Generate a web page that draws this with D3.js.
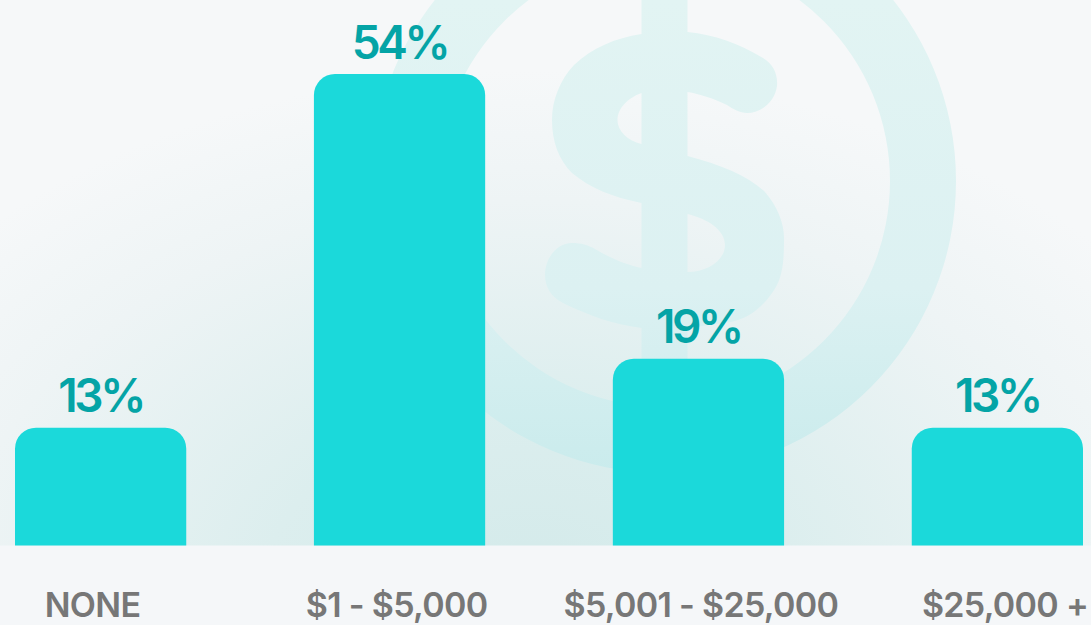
<!DOCTYPE html>
<html><head><meta charset="utf-8">
<script src="https://cdn.jsdelivr.net/npm/d3@7"></script>
<style>html,body{margin:0;padding:0;background:#f5f7f9;overflow:hidden}</style>
</head><body><div id="c"></div>
<script>
const categories=["NONE","$1 - $5,000","$5,001 - $25,000","$25,000 +"];
const valueLabels=["13%","54%","19%","13%"];
const barValues=[13.5,54,21.4,13.5];

const W=1091,H=625,base=545.5,top0=74;
const svg=d3.select("#c").append("svg").attr("width",W).attr("height",H).style("display","block");
const defs=svg.append("defs");
const bg=defs.append("radialGradient").attr("id","bg").attr("gradientUnits","userSpaceOnUse")
 .attr("cx",0).attr("cy",0).attr("r",1)
 .attr("gradientTransform","translate(530,590) scale(760,520)");
bg.append("stop").attr("offset",0).attr("stop-color","#d3eaea");
bg.append("stop").attr("offset",0.35).attr("stop-color","#dceeee");
bg.append("stop").attr("offset",0.75).attr("stop-color","#eef4f5");
bg.append("stop").attr("offset",1).attr("stop-color","#f6f8f9");
const rg=defs.append("linearGradient").attr("id","ring").attr("gradientUnits","userSpaceOnUse")
 .attr("x1",0).attr("y1",0).attr("x2",0).attr("y2",480);
rg.append("stop").attr("offset",0).attr("stop-color","#e2f4f3");
rg.append("stop").attr("offset",0.6).attr("stop-color","#dcf1f2");
rg.append("stop").attr("offset",1).attr("stop-color","#c9ebec");

svg.append("rect").attr("width",W).attr("height",H).attr("fill","#f5f7f9");
svg.append("rect").attr("width",W).attr("height",base).attr("fill","url(#bg)");

const clip=defs.append("clipPath").attr("id","plot");
clip.append("rect").attr("width",W).attr("height",base);
const deco=svg.append("g").attr("clip-path","url(#plot)");
const cx=664,cy=181;
deco.append("path").attr("fill","url(#ring)").attr("fill-rule","evenodd").attr("d",
 `M${cx-292},${cy}a292,292 0 1,0 584,0a292,292 0 1,0 -584,0Z
  M${cx-226},${cy}a226,226 0 1,0 452,0a226,226 0 1,0 -452,0Z`);
// dollar sign backdrop
deco.append("path").attr("fill","url(#ring)").attr("fill-rule","evenodd").attr("d",
 `M641.5,-10H687.5V32C715,35 738,43 763,58C773,64 778,74 777,86C775,101 762,113 747,113C740,113 733,109 727,105C712,98 700,94 687.5,92V156
  C722,165 748,176 765,192C778,207 785,225 784,242C784,262 782,275 777,285C766,305 750,318 731,322L687.5,328V380H641.5V328C612,324 590,316 563,303C551,297 545,287 545,275C545,258 557,243 572,243C581,243 588,245 595,249C612,259 627,265 641.5,268V203
  C612,197 590,188 572,173C559,160 552,142 552,120C552,100 560,80 574,65C592,48 615,38 641.5,34Z
  M641.5,93C628,98 617.5,108 617.5,120C617.5,131 628,141 641.5,144Z
  M687.5,214C708,219 725,230 725,245C725,260 708,272 687.5,272Z`);

const x=d3.scaleBand().domain(categories).range([15,1083]).paddingInner(127.5/298.5).paddingOuter(0);
const xLabel=d3.scalePoint().domain(categories).range([92.5,1005]);
const y=d3.scaleLinear().domain([0,54]).range([base,top0]);
const rows=d3.zip(categories,barValues,valueLabels);
const barPath=d=>{const X=x(d[0]),w=x.bandwidth(),T=y(d[1]),r=21;
 return `M${X},${base}V${T+r}A${r},${r} 0 0 1 ${X+r},${T}H${X+w-r}A${r},${r} 0 0 1 ${X+w},${T+r}V${base}Z`;};
svg.selectAll("path.bar").data(rows).join("path").attr("class","bar").attr("d",barPath).attr("fill","#1bd9da");
svg.selectAll("text.val").data(rows).join("text").attr("class","val")
 .attr("x",d=>x(d[0])+x.bandwidth()/2).attr("y",d=>y(d[1])-15.5).attr("text-anchor","middle")
 .attr("font-family","Inter, sans-serif").attr("font-weight",600).attr("font-size",46).attr("letter-spacing",-3.4).attr("fill","#04a4a6").text(d=>d[2]);
svg.selectAll("text.cat").data(rows).join("text").attr("class","cat")
 .attr("x",d=>xLabel(d[0])).attr("y",617).attr("text-anchor","middle")
 .attr("font-family","Inter, sans-serif").attr("font-weight",600).attr("font-size",34).attr("letter-spacing",-0.7).attr("fill","#777777").text(d=>d[0]);
</script></body></html>
